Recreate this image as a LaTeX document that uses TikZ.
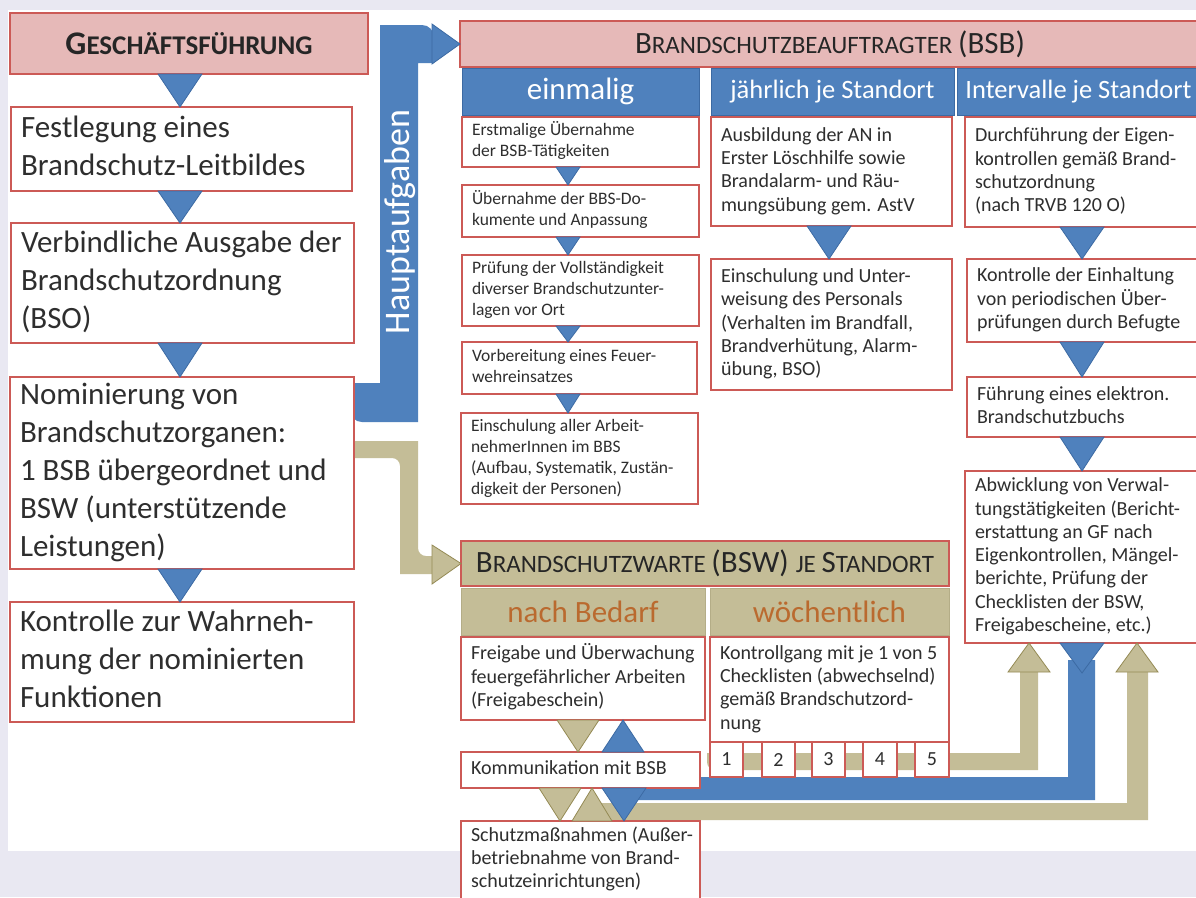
\documentclass[tikz,border=0pt]{standalone}
\usepackage{fontspec}
\setmainfont{Carlito}
\usetikzlibrary{calc}
\definecolor{lav}{HTML}{E9E8F2}
\definecolor{boxred}{HTML}{CC5A56}
\definecolor{pinkfill}{HTML}{E6B9B8}
\definecolor{hblue}{HTML}{4F81BD}
\definecolor{bluedark}{HTML}{3C6AA3}
\definecolor{beige}{HTML}{C4BD97}
\definecolor{beigedark}{HTML}{948A54}
\definecolor{orangetxt}{HTML}{BA6A2F}
\definecolor{txt}{HTML}{2E2E2E}
\newcommand\fL{\fontsize{31}{38}\selectfont}
\newcommand\fS{\fontsize{17.5}{21}\selectfont}
\newcommand\fM{\fontsize{20}{23.3}\selectfont}
\newcommand\fSub{\fontsize{31}{36}\selectfont}
\newcommand\fSubB{\fontsize{26.5}{30}\selectfont}
\newcommand\capA[1]{{\fontsize{31}{36}\selectfont #1}}
\newcommand\capB[1]{{\fontsize{25}{30}\selectfont #1}}
\newcommand\mybox[7][]{%
  \pgfmathsetmacro\bw{#5-#3}%
  \pgfmathsetmacro\bh{#6-#4}%
  \pgfmathsetmacro\bcx{(#3+#5)/2}%
  \pgfmathsetmacro\bcy{(#4+#6)/2}%
  \pgfmathsetmacro\btw{#5-#3-20}%
  \node[tbox, minimum width=\bw pt, minimum height=\bh pt, #1] (#2) at (\bcx,\bcy)
    {\makebox[\btw pt][l]{\begin{tabular}{@{}l@{}}#7\end{tabular}}};}
\newcommand\mylab[7][]{%
  \pgfmathsetmacro\bw{#5-#3}%
  \pgfmathsetmacro\bh{#6-#4}%
  \pgfmathsetmacro\bcx{(#3+#5)/2}%
  \pgfmathsetmacro\bcy{(#4+#6)/2}%
  \node[minimum width=\bw pt, minimum height=\bh pt, inner sep=0pt, outer sep=0pt, #1] (#2) at (\bcx,\bcy) {#7};}
\newcommand\dtri[5]{\filldraw[#1] ($(#2.south -| #4)+(-#5,0)$) -- ($(#2.south -| #4)+(#5,0)$) -- (#3.north -| #4) -- cycle;}
\newcommand\utri[5]{\filldraw[#1] ($(#2.north -| #4)+(-#5,0)$) -- ($(#2.north -| #4)+(#5,0)$) -- (#3.south -| #4) -- cycle;}
\tikzset{
  tbox/.style={draw=boxred, line width=1.8pt, fill=white, inner xsep=10pt, inner ysep=0pt, outer sep=0pt, text=txt},
  hdr/.style={draw=boxred, line width=1.8pt, fill=pinkfill, text=black!85},
  bsub/.style={draw=bluedark, line width=1pt, fill=hblue, text=white},
  tsub/.style={draw=beigedark!70, line width=1pt, fill=beige, text=orangetxt, font=\fSub},
  btri/.style={fill=hblue, draw=bluedark, line width=0.8pt},
  ttri/.style={fill=beige, draw=beigedark, line width=0.8pt},
}
\begin{document}
\begin{tikzpicture}[x=1pt,y=-1pt]
\useasboundingbox (0,0) rectangle (1196,897);
\clip (0,0) rectangle (1196,897);
\fill[lav] (0,0) rectangle (1196,897);
\fill[white] (8,10) rectangle (1196,851);

% column centre coordinates
\coordinate (cL) at (180,0);
\coordinate (cE) at (568,0);
\coordinate (cJ) at (829,0);
\coordinate (cI) at (1082,0);
\coordinate (cNb) at (578,0);
\coordinate (cKu) at (623,0);
\coordinate (cKd) at (560,0);
\coordinate (cKu2) at (592,0);
\coordinate (cKb) at (624,0);
\coordinate (ua) at (1029,0);
\coordinate (ub) at (1137,0);
\coordinate (btip) at (1082,673);

% bent arrows (behind the boxes)
\fill[hblue] (350,383) -- (380,383) -- (380,25) [rounded corners=12pt] -- (434,25) [sharp corners] -- (434,63) -- (418,63) -- (418,422) [rounded corners=12pt] -- (350,422) [sharp corners] -- cycle;
\fill[beige] (350,441) -- (418,441) [rounded corners=8pt] -- (418,556) [sharp corners] -- (434,556) -- (434,574) -- (400,574) [rounded corners=8pt] -- (400,458) [sharp corners] -- (350,458) -- cycle;
% bottom bands
\fill[beige] (707,753) -- (1020,753) -- (1020,668) -- (1038,668) -- (1038,770) [rounded corners=8pt] -- (707,770) [sharp corners] -- cycle;
\fill[hblue] (615,777) -- (1068,777) -- (1068,660) -- (1095,660) -- (1095,800) [rounded corners=10pt] -- (615,800) [sharp corners] -- cycle;
\fill[beige] (600,803) -- (1127,803) -- (1127,668) -- (1148,668) -- (1148,820) [rounded corners=8pt] -- (600,820) [sharp corners] -- cycle;

% left column
\mylab[hdr]{gf}{10}{13}{368}{74}{\bfseries\fontsize{33}{38}\selectfont G\fontsize{27}{32}\selectfont ESCHÄFTSFÜHRUNG}
\mybox[font=\fL]{l1}{11}{107}{352}{191}{Festlegung eines\\Brandschutz-Leitbildes}
\mybox[font=\fL]{l2}{11}{223}{354}{343}{Verbindliche Ausgabe der\\Brandschutzordnung\\(BSO)}
\mybox[font=\fL]{l3}{10}{377}{354}{569}{Nominierung von\\Brandschutzorganen:\\1 BSB übergeordnet und\\BSW (unterstützende\\Leistungen)}
\mybox[font=\fL]{l4}{10}{602}{354}{722}{Kontrolle zur Wahrneh-\\mung der nominierten\\Funktionen}

\node[rotate=90, text=white, font=\fontsize{36}{40}\selectfont, inner sep=0pt] (haupt) at (400,222) {Hauptaufgaben};

% BSB header and columns
\mylab[hdr]{bsb}{460}{21}{1200}{67}{\capA{B}\capB{RANDSCHUTZBEAUFTRAGTER }\capA{(BSB)}}
\mylab[bsub, font=\fSub]{hE}{462}{68}{699}{115}{einmalig}
\mylab[bsub, font=\fSubB]{hJ}{711}{68}{954}{115}{jährlich je Standort}
\mylab[bsub, font=\fSubB]{hI}{957}{68}{1200}{115}{Intervalle je Standort}

\mybox[font=\fS]{e1}{462}{117}{699}{167}{Erstmalige Übernahme\\der BSB-Tätigkeiten}
\mybox[font=\fS]{e2}{462}{185}{699}{237}{Übernahme der BBS-Do-\\kumente und Anpassung}
\mybox[font=\fS]{e3}{462}{255}{699}{326}{Prüfung der Vollständigkeit\\diverser Brandschutzunter-\\lagen vor Ort}
\mybox[font=\fS]{e4}{462}{342}{697}{394}{Vorbereitung eines Feuer-\\wehreinsatzes}
\mybox[font=\fS]{e5}{461}{413}{698}{504}{Einschulung aller Arbeit-\\nehmerInnen im BBS\\(Aufbau, Systematik, Zustän-\\digkeit der Personen)}

\mybox[font=\fM]{j1}{711}{117}{952}{226}{Ausbildung der AN in\\Erster Löschhilfe sowie\\Brandalarm- und Räu-\\mungsübung gem. AstV}
\mybox[font=\fM]{j2}{711}{259}{952}{390}{Einschulung und Unter-\\weisung des Personals\\(Verhalten im Brandfall,\\Brandverhütung, Alarm-\\übung, BSO)}

\mybox[font=\fM]{i1}{965}{117}{1200}{227}{Durchführung der Eigen-\\kontrollen gemäß Brand-\\schutzordnung\\(nach TRVB 120 O)}
\mybox[font=\fM]{i2}{967}{259}{1200}{342}{Kontrolle der Einhaltung\\von periodischen Über-\\prüfungen durch Befugte}
\mybox[font=\fM]{i3}{967}{377}{1200}{437}{Führung eines elektron.\\Brandschutzbuchs}
\mybox[font=\fM]{i4}{965}{471}{1200}{643}{Abwicklung von Verwal-\\tungstätigkeiten (Bericht-\\erstattung an GF nach\\Eigenkontrollen, Mängel-\\berichte, Prüfung der\\Checklisten der BSW,\\Freigabescheine, etc.)}

% BSW header and columns
\mylab[hdr, fill=beige]{bsw}{461}{541}{949}{586}{\capA{B}\capB{RANDSCHUTZWARTE }\capA{(BSW) }\capB{JE }\capA{S}\capB{TANDORT}}
\mylab[tsub]{hN}{461}{588}{705}{635}{nach Bedarf}
\mylab[tsub]{hW}{710}{588}{949}{635}{wöchentlich}
\mybox[font=\fM]{n1}{461}{637}{705}{720}{Freigabe und Überwachung\\feuergefährlicher Arbeiten\\(Freigabeschein)}
\mybox[font=\fM]{w1}{710}{637}{949}{742}{Kontrollgang mit je 1 von 5\\Checklisten (abwechselnd)\\gemäß Brandschutzord-\\nung}
\mylab[tbox, font=\fM]{k1}{710}{742}{743}{777}{1}
\mylab[tbox, font=\fM]{k2}{762}{742}{795}{777}{2}
\mylab[tbox, font=\fM]{k3}{812}{742}{845}{777}{3}
\mylab[tbox, font=\fM]{k4}{863}{742}{897}{777}{4}
\mylab[tbox, font=\fM]{k5}{915}{742}{949}{777}{5}
\mybox[font=\fM]{komm}{461}{752}{700}{788}{Kommunikation mit BSB}
\mybox[font=\fM]{schutz}{461}{821}{700}{899}{Schutzmaßnahmen (Außer-\\betriebnahme von Brand-\\schutzeinrichtungen)}

% arrowheads of bent arrows
\filldraw[btri] (432,24) -- (432,64) -- (bsb.west) -- cycle;
\filldraw[ttri] (432,545) -- (432,584) -- (bsw.west) -- cycle;

% triangles (connectors)
\dtri{btri}{gf}{l1}{cL}{22}
\dtri{btri}{l1}{l2}{cL}{22}
\dtri{btri}{l2}{l3}{cL}{22}
\dtri{btri}{l3}{l4}{cL}{22}
\dtri{btri}{e1}{e2}{cE}{12}
\dtri{btri}{e2}{e3}{cE}{12}
\dtri{btri}{e3}{e4}{cE}{12}
\dtri{btri}{e4}{e5}{cE}{12}
\dtri{btri}{j1}{j2}{cJ}{22}
\dtri{btri}{i1}{i2}{cI}{22}
\dtri{btri}{i2}{i3}{cI}{22}
\dtri{btri}{i3}{i4}{cI}{22}
\filldraw[btri] ($(i4.south -| cI)+(-22,0)$) -- ($(i4.south -| cI)+(22,0)$) -- (btip) -- cycle;
\filldraw[ttri] (1008,672) -- (1050,672) -- (i4.south -| ua) -- cycle;
\filldraw[ttri] (1116,672) -- (1158,672) -- (i4.south -| ub) -- cycle;
\dtri{ttri}{n1}{komm}{cNb}{21}
\utri{btri}{komm}{n1}{cKu}{21}
\dtri{ttri}{komm}{schutz}{cKd}{21}
\utri{ttri}{schutz}{komm}{cKu2}{20}
\dtri{btri}{komm}{schutz}{cKb}{22}
\end{tikzpicture}
\end{document}
